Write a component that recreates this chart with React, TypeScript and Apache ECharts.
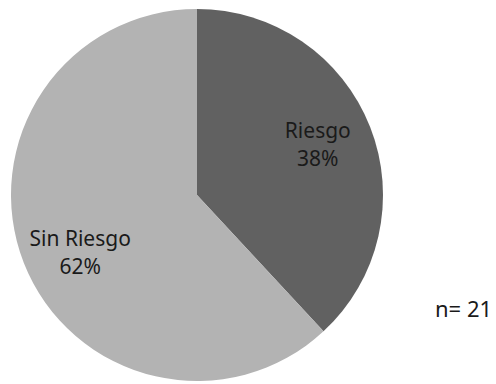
import React, { useEffect, useRef } from "react";
import * as echarts from "echarts";

const categories = ["Riesgo", "Sin Riesgo"];
const counts = [8, 13];
const percentLabels = ["38%", "62%"];
const colors = ["#616161", "#b3b3b3"];
const noteText = "n= 21";

export default function App() {
  const ref = useRef<HTMLDivElement>(null);
  useEffect(() => {
    document.body.style.margin = "0";
    const chart = echarts.init(ref.current!, null, { renderer: "svg" });
    const data = categories.map((c, i) => ({
      name: c,
      value: counts[i],
      itemStyle: { color: colors[i] },
    }));
    const labelOffsets = [
      [-3, -2],
      [7, 8],
    ];
    chart.setOption({
      animation: false,
      backgroundColor: "#ffffff",
      series: [
        {
          type: "pie",
          center: [197, 195],
          radius: 186,
          startAngle: 90,
          clockwise: true,
          silent: true,
          label: { show: false },
          labelLine: { show: false },
          itemStyle: { borderWidth: 0 },
          data,
        },
        {
          type: "pie",
          center: [197, 195],
          radius: [74, 186],
          startAngle: 90,
          clockwise: true,
          silent: true,
          itemStyle: { color: "rgba(0,0,0,0)", borderWidth: 0 },
          labelLine: { show: false },
          label: {
            show: true,
            position: "inside",
            fontFamily: "Noto Sans",
            fontSize: 21,
            lineHeight: 28,
            color: "#1a1a1a",
            formatter: (p: any) => {
              const i = categories.indexOf(p.name);
              return p.name + "\n" + percentLabels[i];
            },
          },
          data: categories.map((c, i) => ({
            name: c,
            value: counts[i],
            label: { offset: labelOffsets[i] },
          })),
        },
      ],
      graphic: [
        {
          type: "text",
          left: 435,
          top: 297,
          style: {
            text: noteText,
            fontFamily: "Noto Sans",
            fontSize: 22,
            fill: "#1a1a1a",
          },
        },
      ],
    });
    return () => chart.dispose();
  }, []);
  return (
    <div
      ref={ref}
      style={{ position: "fixed", left: 0, top: 0, width: 496, height: 384 }}
    />
  );
}
